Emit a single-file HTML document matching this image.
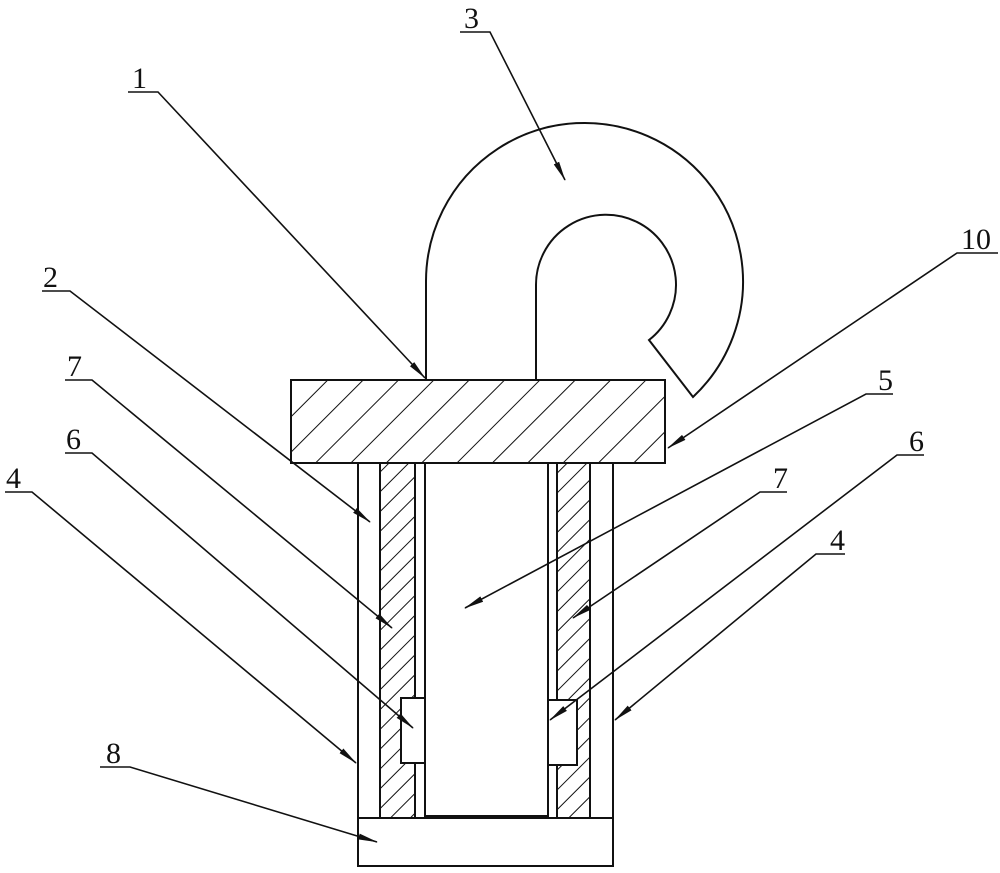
<!DOCTYPE html>
<html><head><style>html,body{margin:0;padding:0;background:#fff}svg{display:block}text{font-family:"Liberation Serif",serif;font-size:30px;fill:#111}</style></head>
<body>
<svg width="1000" height="873" viewBox="0 0 1000 873" xmlns="http://www.w3.org/2000/svg">
<defs>
<pattern id="h1" patternUnits="userSpaceOnUse" width="25" height="25" patternTransform="rotate(45)">
<line x1="0" y1="0" x2="0" y2="25" stroke="#111" stroke-width="2"/></pattern>
<pattern id="h2" patternUnits="userSpaceOnUse" width="14" height="14" patternTransform="rotate(45)">
<line x1="0" y1="0" x2="0" y2="14" stroke="#111" stroke-width="2"/></pattern>
<marker id="a" markerWidth="20" markerHeight="8" refX="19" refY="4" orient="auto" markerUnits="userSpaceOnUse">
<path d="M0,1 L20,4 L0,7 Z" fill="#111"/></marker>
</defs>
<g stroke="#111" stroke-width="2" fill="none">
<!-- hook -->
<path d="M426,380 L426,281 A158.5,158.5 0 1 1 693,397 L649,340 A70,70 0 1 0 536,285 L536,380"/>
<!-- plate -->
<rect x="291" y="380" width="374" height="83" fill="url(#h1)"/>
<!-- body -->
<line x1="358" y1="463" x2="358" y2="818"/>
<line x1="613" y1="463" x2="613" y2="818"/>
<rect x="358" y="818" width="255" height="48"/>
<rect x="380" y="463" width="35" height="355" fill="url(#h2)"/>
<rect x="557" y="463" width="33" height="355" fill="url(#h2)"/>
<path d="M425,463 L425,816 L548,816 L548,463"/>
<rect x="401" y="698" width="24" height="65" fill="#fff"/>
<rect x="548" y="700" width="29" height="65" fill="#fff"/>
<!-- leaders -->
<g stroke-width="1.6">
<path d="M128,92 L158,92 L425,378" marker-end="url(#a)"/>
<path d="M460,32 L490,32 L565,180" marker-end="url(#a)"/>
<path d="M998,253 L957,253 L668,448" marker-end="url(#a)"/>
<path d="M42,291 L70,291 L370,522" marker-end="url(#a)"/>
<path d="M893,394 L866,394 L465,608" marker-end="url(#a)"/>
<path d="M65,380 L92,380 L392,628" marker-end="url(#a)"/>
<path d="M787,492 L760,492 L573,618" marker-end="url(#a)"/>
<path d="M65,453 L92,453 L413,728" marker-end="url(#a)"/>
<path d="M924,455 L897,455 L550,720" marker-end="url(#a)"/>
<path d="M5,492 L32,492 L356,763" marker-end="url(#a)"/>
<path d="M845,554 L816,554 L615,720" marker-end="url(#a)"/>
<path d="M100,767 L130,767 L377,842" marker-end="url(#a)"/>
</g>
</g>
<text x="132" y="88">1</text>
<text x="464" y="28">3</text>
<text x="961" y="249">10</text>
<text x="43" y="287">2</text>
<text x="878" y="390">5</text>
<text x="67" y="376">7</text>
<text x="773" y="488">7</text>
<text x="66" y="449">6</text>
<text x="909" y="451">6</text>
<text x="6" y="488">4</text>
<text x="830" y="550">4</text>
<text x="106" y="763">8</text>
</svg>
</body></html>
